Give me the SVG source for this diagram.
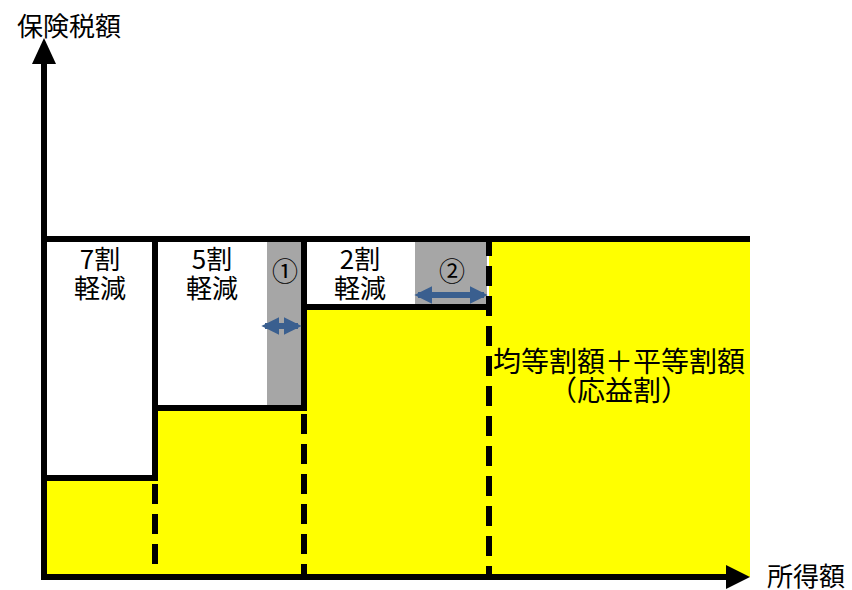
<svg xmlns="http://www.w3.org/2000/svg" width="852" height="590" viewBox="0 0 852 590">
<defs>
<style>
.t{font-family:"Noto Sans CJK JP","Noto Sans",sans-serif;font-size:26px;fill:#000;text-anchor:middle}
.ln{stroke:#000;stroke-width:6;fill:none}
.dash{stroke:#000;stroke-width:6;fill:none;stroke-dasharray:20 10}
.dbl{stroke:#3A5F8F;stroke-width:6;fill:none;marker-start:url(#ah);marker-end:url(#ah)}
</style>
<marker id="ah" viewBox="0 0 10 10" refX="8" refY="5" markerWidth="3" markerHeight="3" orient="auto-start-reverse"><path d="M0,0L10,5L0,10z" fill="#3A5F8F"/></marker>
</defs>
<rect width="852" height="590" fill="#fff"/>
<g id="areas">
<rect x="44" y="478" width="111" height="99" fill="#ffff00"/>
<rect x="155" y="408" width="149" height="169" fill="#ffff00"/>
<rect x="304" y="307" width="185" height="270" fill="#ffff00"/>
<rect x="489" y="239" width="261" height="338" fill="#ffff00"/>
<rect x="267" y="239" width="34" height="169" fill="#a6a6a6"/>
<rect x="415" y="239" width="72" height="68" fill="#a6a6a6"/>
</g>
<g id="connectors">
<line class="ln" x1="44" y1="580" x2="44" y2="58"/>
<path d="M44,38L32,64H56z" fill="#000"/>
<line class="ln" x1="41" y1="577" x2="730" y2="577"/>
<path d="M750,577L726,565V589z" fill="#000"/>
<line class="ln" x1="44" y1="239" x2="750" y2="239"/>
<line class="ln" x1="44" y1="478" x2="158" y2="478"/>
<line class="ln" x1="155" y1="239" x2="155" y2="478"/>
<line class="dash" x1="155" y1="484" x2="155" y2="577"/>
<line class="ln" x1="155" y1="408" x2="307" y2="408"/>
<line class="ln" x1="304" y1="239" x2="304" y2="408"/>
<line class="dash" x1="304" y1="414" x2="304" y2="577"/>
<line class="ln" x1="304" y1="307" x2="492" y2="307"/>
<line class="dash" x1="489" y1="236" x2="489" y2="577"/>
<line class="dbl" x1="265" y1="326" x2="298" y2="326"/>
<line class="dbl" x1="418" y1="295" x2="484" y2="295"/>
</g>
<g id="labels">
<text class="t" x="69" y="36">保険税額</text>
<text class="t" x="806" y="586">所得額</text>
<text class="t" x="100" y="269"><tspan x="100">7割</tspan><tspan x="100" dy="29">軽減</tspan></text>
<text class="t" x="212" y="269"><tspan x="212">5割</tspan><tspan x="212" dy="29">軽減</tspan></text>
<text class="t" x="285" y="281">①</text>
<text class="t" x="360" y="269"><tspan x="360">2割</tspan><tspan x="360" dy="29">軽減</tspan></text>
<text class="t" x="452" y="281">②</text>
<text class="t" x="619" y="372" style="font-size:28px"><tspan x="619">均等割額＋平等割額</tspan><tspan x="619" dy="29">（応益割）</tspan></text>
</g>
</svg>
